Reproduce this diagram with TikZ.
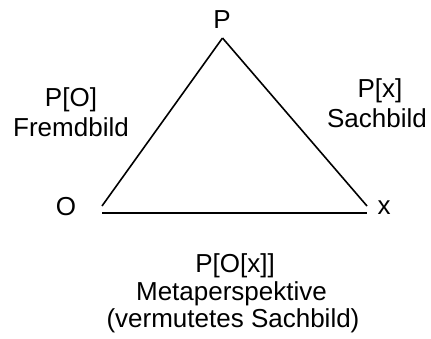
\documentclass[tikz,border=0pt]{standalone}
\usepackage{fontspec}
\setmainfont{Liberation Sans}
\usepackage{tikz}

\tikzset{lbl/.style={anchor=base, inner sep=0pt, font=\fontsize{26}{30}\selectfont},
         side/.style={black, line width=1.6pt}}

\begin{document}
\begin{tikzpicture}[x=1pt,y=-1pt]
\useasboundingbox (0,0) rectangle (431,338);
%\fill[white] (0,0) rectangle (431,338);
\node[lbl] (P) at (222,28.5) {P};
\node[lbl] (O) at (66,215.5) {O};
\node[lbl] (x) at (384,214) {x};

\node[lbl] (PO) at (71,106) {P[O]};
\node[lbl] (fremd) at (71,136) {Fremdbild};
\node[lbl] (Px) at (380,97) {P[x]};
\node[lbl] (sach) at (377,127) {Sachbild};
\node[lbl] (POx) at (235,272) {P[O[x]]};
\node[lbl] (meta) at (231.5,300) {Metaperspektive};
\node[lbl] (verm) at (233,327) {(vermutetes Sachbild)};

\coordinate (top) at (222.5,38);
\coordinate (left) at (102,206);
\coordinate (right) at (367,206);
\coordinate (baseL) at (102,213);
\coordinate (baseR) at (367,213);

\draw[side] (top) -- (left);
\draw[side] (top) -- (right);
\draw[side] (baseL) -- (baseR);
\end{tikzpicture}
\end{document}
